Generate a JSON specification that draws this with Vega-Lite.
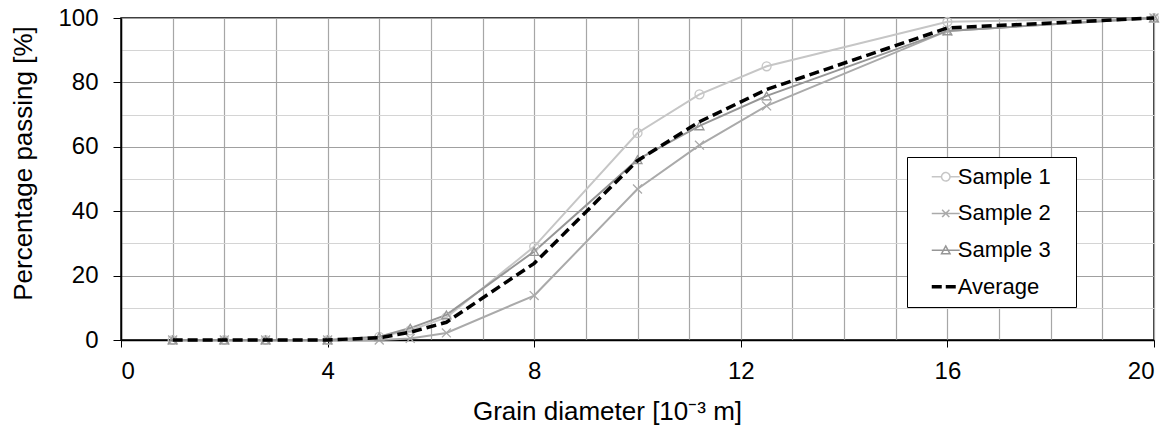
{
  "$schema": "https://vega.github.io/schema/vega-lite/v6.json",
  "width": 1033,
  "height": 322,
  "autosize": "none",
  "padding": {"left": 121, "top": 18, "right": 20, "bottom": 85},
  "background": "white",
  "config": {
    "view": {"stroke": "black", "strokeWidth": 1.5},
    "font": "Liberation Sans",
    "axis": {
      "labelFont": "Liberation Sans",
      "titleFont": "Liberation Sans",
      "labelFontSize": 24,
      "titleFontSize": 26,
      "titleFontWeight": "normal",
      "labelColor": "black",
      "titleColor": "black",
      "domainColor": "black",
      "domainWidth": 1.5,
      "tickColor": "black",
      "gridWidth": 1.2
    }
  },
  "data": {
    "values": [
      {"sample": "Sample 1", "d": 1, "p": 0},
      {"sample": "Sample 1", "d": 2, "p": 0},
      {"sample": "Sample 1", "d": 2.8, "p": 0},
      {"sample": "Sample 1", "d": 4, "p": 0},
      {"sample": "Sample 1", "d": 5, "p": 1},
      {"sample": "Sample 1", "d": 5.6, "p": 3},
      {"sample": "Sample 1", "d": 6.3, "p": 7},
      {"sample": "Sample 1", "d": 8, "p": 29},
      {"sample": "Sample 1", "d": 10, "p": 64.3},
      {"sample": "Sample 1", "d": 11.2, "p": 76.3},
      {"sample": "Sample 1", "d": 12.5, "p": 85},
      {"sample": "Sample 1", "d": 16, "p": 98.8},
      {"sample": "Sample 1", "d": 20, "p": 100},
      {"sample": "Sample 2", "d": 1, "p": 0},
      {"sample": "Sample 2", "d": 2, "p": 0},
      {"sample": "Sample 2", "d": 2.8, "p": 0},
      {"sample": "Sample 2", "d": 4, "p": 0},
      {"sample": "Sample 2", "d": 5, "p": 0},
      {"sample": "Sample 2", "d": 5.6, "p": 0.5},
      {"sample": "Sample 2", "d": 6.3, "p": 2.2},
      {"sample": "Sample 2", "d": 8, "p": 13.8},
      {"sample": "Sample 2", "d": 10, "p": 46.9},
      {"sample": "Sample 2", "d": 11.2, "p": 60.5},
      {"sample": "Sample 2", "d": 12.5, "p": 72.7},
      {"sample": "Sample 2", "d": 16, "p": 96},
      {"sample": "Sample 2", "d": 20, "p": 100},
      {"sample": "Sample 3", "d": 1, "p": 0},
      {"sample": "Sample 3", "d": 2, "p": 0},
      {"sample": "Sample 3", "d": 2.8, "p": 0},
      {"sample": "Sample 3", "d": 4, "p": 0},
      {"sample": "Sample 3", "d": 5, "p": 1},
      {"sample": "Sample 3", "d": 5.6, "p": 3.7},
      {"sample": "Sample 3", "d": 6.3, "p": 7.8},
      {"sample": "Sample 3", "d": 8, "p": 27.5},
      {"sample": "Sample 3", "d": 10, "p": 56},
      {"sample": "Sample 3", "d": 11.2, "p": 66.5},
      {"sample": "Sample 3", "d": 12.5, "p": 75.8},
      {"sample": "Sample 3", "d": 16, "p": 96},
      {"sample": "Sample 3", "d": 20, "p": 100},
      {"sample": "Average", "d": 1, "p": 0},
      {"sample": "Average", "d": 2, "p": 0},
      {"sample": "Average", "d": 2.8, "p": 0},
      {"sample": "Average", "d": 4, "p": 0},
      {"sample": "Average", "d": 5, "p": 0.7},
      {"sample": "Average", "d": 5.6, "p": 2.4},
      {"sample": "Average", "d": 6.3, "p": 5.5},
      {"sample": "Average", "d": 8, "p": 23.8},
      {"sample": "Average", "d": 10, "p": 55.7},
      {"sample": "Average", "d": 11.2, "p": 67.8},
      {"sample": "Average", "d": 12.5, "p": 77.8},
      {"sample": "Average", "d": 16, "p": 96.9},
      {"sample": "Average", "d": 20, "p": 100}
    ]
  },
  "encoding": {
    "x": {
      "field": "d",
      "type": "quantitative",
      "scale": {"domain": [0, 20], "nice": false, "zero": false},
      "axis": {
        "values": [0,1,2,3,4,5,6,7,8,9,10,11,12,13,14,15,16,17,18,19,20],
        "labelExpr": "datum.value % 4 == 0 ? datum.label : ''",
        "tickOpacity": {"condition": {"test": "datum.value % 4 == 0", "value": 1}, "value": 0},
        "tickSize": 7,
        "labelPadding": 12,
        "gridColor": "#a6a6a6",
        "title": "Grain diameter [10⁻³ m]",
        "titleX": 486,
        "titleY": 79,
        "titleBaseline": "alphabetic",
        "titleAlign": "center"
      }
    },
    "y": {
      "field": "p",
      "type": "quantitative",
      "scale": {"domain": [0, 100], "nice": false},
      "axis": {
        "values": [0,10,20,30,40,50,60,70,80,90,100],
        "labelExpr": "datum.value % 20 == 0 ? datum.label : ''",
        "tickOpacity": {"condition": {"test": "datum.value % 20 == 0", "value": 1}, "value": 0},
        "gridColor": {"condition": {"test": "datum.value % 20 == 0", "value": "#a0a0a0"}, "value": "#d4d4d4"},
        "tickSize": 8,
        "labelPadding": 15,
        "title": "Percentage passing [%]",
        "titleAngle": -90,
        "titleX": -90,
        "titleY": 145,
        "titleBaseline": "alphabetic",
        "titleAlign": "center"
      }
    }
  },
  "layer": [
    {
      "transform": [{"filter": "datum.sample != 'Average'"}],
      "mark": {"type": "line", "strokeWidth": 2},
      "encoding": {
        "color": {
          "field": "sample",
          "type": "nominal",
          "scale": {"domain": ["Sample 1", "Sample 2", "Sample 3", "Average"], "range": ["#c6c6c6", "#aaaaaa", "#969696", "#000000"]},
          "legend": {
            "title": null,
            "orient": "none",
            "legendX": 786,
            "legendY": 139,
            "strokeColor": "black",
            "fillColor": "white",
            "padding": 8.75,
            "symbolOffset": 19,
            "symbolSize": 784,
            "labelFontSize": 22,
            "labelFont": "Liberation Sans",
            "labelColor": "black",
            "labelOffset": 1,
            "rowPadding": 14.7,
            "labelExpr": "datum.label + '\u2800'",
            "encode": {
              "symbols": {
                "update": {
                  "shape": {"signal": "datum.value == 'Sample 1' ? 'M-1,0H-0.3M0.3,0H1M-0.3,0A0.3,0.3 0 1,1 0.3,0A0.3,0.3 0 1,1 -0.3,0' : datum.value == 'Sample 2' ? 'M-1,0H1M-0.26,-0.26L0.26,0.26M-0.26,0.26L0.26,-0.26' : datum.value == 'Sample 3' ? 'M-1,0H1M-0.3,0.25L0,-0.3L0.3,0.25Z' : 'M-1,0H1'"},
                  "strokeDash": {"signal": "datum.value == 'Average' ? [10, 4] : [1, 0]"},
                  "strokeWidth": {"signal": "datum.value == 'Average' ? 3.5 : 1.5"},
                  "fill": {"value": "transparent"}
                }
              }
            }
          }
        }
      }
    },
    {
      "transform": [{"filter": "datum.sample != 'Average'"}],
      "mark": {"type": "point", "filled": false, "strokeWidth": 1.3, "size": 80, "opacity": 1},
      "encoding": {
        "color": {"field": "sample", "type": "nominal"},
        "shape": {
          "field": "sample",
          "type": "nominal",
          "scale": {"domain": ["Sample 1", "Sample 2", "Sample 3"], "range": ["circle", "M-1,-1L1,1M-1,1L1,-1", "triangle-up"]},
          "legend": null
        }
      }
    },
    {
      "transform": [{"filter": "datum.sample == 'Average'"}],
      "mark": {"type": "line", "color": "black", "strokeWidth": 3.5, "strokeDash": [10, 5]},
      "encoding": {}
    }
  ]
}
